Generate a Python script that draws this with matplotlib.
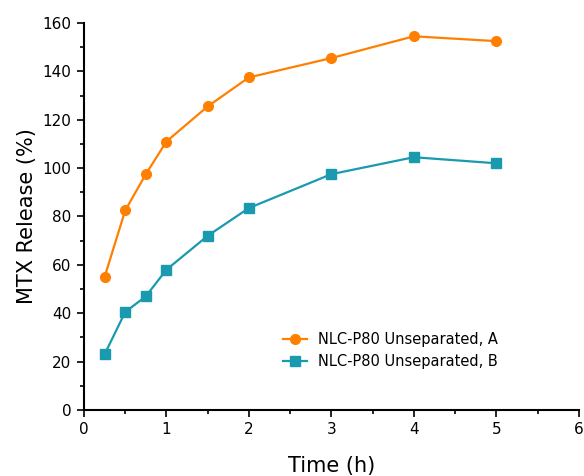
import matplotlib
matplotlib.use("Agg")
import matplotlib.pyplot as plt
from matplotlib.ticker import MultipleLocator

plt.rcParams['font.family'] = ['DejaVu Sans']

time_h = [0.25, 0.5, 0.75, 1, 1.5, 2, 3, 4, 5]
release_a = [55, 82.5, 97.5, 111, 125.5, 137.5, 145.5, 154.5, 152.5]
release_b = [23, 40.5, 47, 58, 72, 83.5, 97.5, 104.5, 102]
label_a = "NLC-P80 Unseparated, A"
label_b = "NLC-P80 Unseparated, B"

fig = plt.figure(figsize=(5.84, 4.76), dpi=100)
ax = fig.add_axes([0.1438, 0.1387, 0.8472, 0.813])

ax.plot(time_h, release_a, color='#FF8000', marker='o', markersize=7, lw=1.6, label=label_a)
ax.plot(time_h, release_b, color='#1A9AAE', marker='s', markersize=7, lw=1.6, label=label_b)

ax.set_xlim(0, 6)
ax.set_ylim(0, 160)
ax.xaxis.set_major_locator(MultipleLocator(1))
ax.xaxis.set_minor_locator(MultipleLocator(0.5))
ax.yaxis.set_major_locator(MultipleLocator(20))
ax.yaxis.set_minor_locator(MultipleLocator(10))
ax.tick_params(which='major', direction='out', length=5, width=1.2, labelsize=11, colors='black', pad=4)
ax.tick_params(which='minor', direction='out', length=3, width=1.2)
for s in ['top', 'right']:
    ax.spines[s].set_visible(False)
for s in ['left', 'bottom']:
    ax.spines[s].set_linewidth(1.5)

ax.set_xlabel("Time (h)", fontsize=15, labelpad=13)
ax.set_ylabel("MTX Release (%)", fontsize=15, labelpad=4)

ax.legend(loc='upper left', bbox_to_anchor=(0.375, 0.235), frameon=False, fontsize=10.5,
          handlelength=1.7, handletextpad=0.75, labelspacing=0.45)

fig.savefig("out.png", dpi=100)
